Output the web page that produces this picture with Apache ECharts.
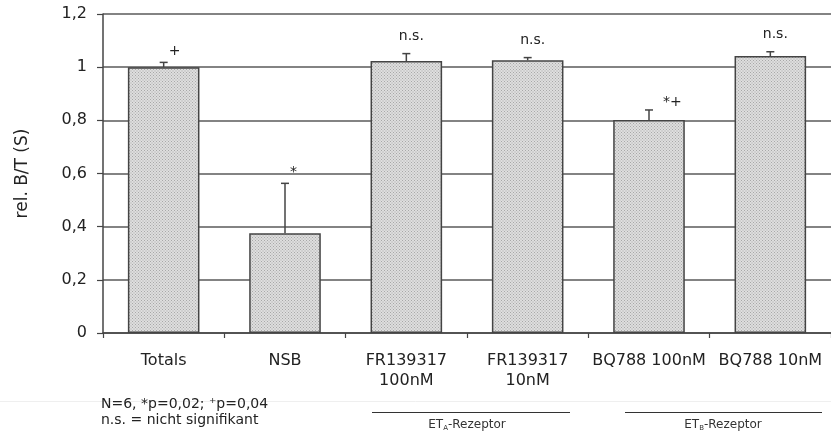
<!DOCTYPE html>
<html><head><meta charset="utf-8">
<script src="https://cdn.jsdelivr.net/npm/echarts@6/dist/echarts.min.js"></script>
<style>html,body{margin:0;padding:0;background:#fff}#c{width:831px;height:434px}</style>
</head><body><div id="c"></div>
<script>
const categories = ['Totals', 'NSB', 'FR139317\n100nM', 'FR139317\n10nM', 'BQ788 100nM', 'BQ788 10nM'];
const values = [1.0, 0.375, 1.023, 1.026, 0.801, 1.042];
const errUpper = [1.018, 0.563, 1.051, 1.036, 0.839, 1.058];
const annotations = ['+', '*', 'n.s.', 'n.s.', '*+', 'n.s.'];
const yTicks = [0, 0.2, 0.4, 0.6, 0.8, 1.0, 1.2];

const FONT = 'DejaVu Sans';

// dotted fill pattern
const pc = document.createElement('canvas');
pc.width = 3; pc.height = 3;
const px = pc.getContext('2d');
px.fillStyle = '#dedede'; px.fillRect(0, 0, 3, 3);
px.fillStyle = '#a8a8a8'; px.fillRect(0, 0, 1, 1); px.fillRect(1.5, 1.5, 1, 1);

const chart = echarts.init(document.getElementById('c'));
chart.setOption({
  animation: false,
  grid: { left: 103, top: 14, right: -4, bottom: 101 },
  xAxis: {
    type: 'category', data: categories,
    axisLine: { lineStyle: { color: '#444', width: 1.5 } },
    axisTick: { show: true, length: 5, lineStyle: { color: '#444', width: 1.2 } },
    axisLabel: { color: '#222', fontFamily: FONT, fontSize: 16, margin: 18, lineHeight: 20, interval: 0 },
    splitLine: { show: false }
  },
  yAxis: {
    type: 'value', min: 0, max: 1.2, interval: 0.2,
    name: 'rel. B/T (S)', nameLocation: 'middle', nameGap: 72, nameRotate: 90,
    nameTextStyle: { color: '#222', fontFamily: FONT, fontSize: 17 },
    axisLine: { show: true, lineStyle: { color: '#444', width: 1.5 } },
    axisTick: { show: true, length: 6, lineStyle: { color: '#444', width: 1.2 } },
    axisLabel: {
      color: '#222', fontFamily: FONT, fontSize: 16, margin: 16,
      formatter: v => {
        const t = yTicks.find(x => Math.abs(x - v) < 1e-6);
        return String(+((t ?? v).toFixed(1))).replace('.', ',');
      }
    },
    splitLine: { show: true, lineStyle: { color: '#5a5a5a', width: 1.5 } }
  },
  series: [
    {
      type: 'bar', data: values, barWidth: '59%',
      itemStyle: { color: { image: pc, repeat: 'repeat' }, borderColor: '#444', borderWidth: 1.5 },
      z: 2
    },
    {
      type: 'custom',
      data: values.map((v, i) => [i, v, errUpper[i]]),
      encode: { x: 0, y: [1, 2] },
      z: 3,
      renderItem: (params, api) => {
        const i = api.value(0);
        const base = api.coord([i, api.value(1)]);
        const top = api.coord([i, api.value(2)]);
        const txt = annotations[i];
        const isNS = txt === 'n.s.';
        let tx, ty, align;
        if (isNS) { tx = top[0] + 5; ty = top[1] - 17; align = 'center'; }
        else if (txt.length > 1) { tx = top[0] + 14; ty = top[1] - 8; align = 'left'; }
        else { tx = top[0] + 5; ty = top[1] - 11; align = 'left'; }
        return {
          type: 'group',
          children: [
            { type: 'line', shape: { x1: base[0], y1: base[1], x2: top[0], y2: top[1] }, style: { stroke: '#444', lineWidth: 1.5 } },
            { type: 'line', shape: { x1: top[0] - 4, y1: top[1], x2: top[0] + 4, y2: top[1] }, style: { stroke: '#444', lineWidth: 1.5 } },
            { type: 'text', x: tx, y: ty, style: { text: txt, fill: '#222', font: '14px ' + FONT, align: align, verticalAlign: 'middle' } }
          ]
        };
      }
    }
  ],
  graphic: [
    { type: 'line', shape: { x1: 0, y1: 401.5, x2: 831, y2: 401.5 }, style: { stroke: '#efefef', lineWidth: 1 } },
    { type: 'text', left: 101, top: 396, style: { text: 'N=6, *p=0,02; \u207Ap=0,04\nn.s. = nicht signifikant', fill: '#222', font: '14px ' + FONT, lineHeight: 16 } },
    { type: 'line', shape: { x1: 372, y1: 412.5, x2: 570, y2: 412.5 }, style: { stroke: '#333', lineWidth: 1 } },
    { type: 'line', shape: { x1: 625, y1: 412.5, x2: 822, y2: 412.5 }, style: { stroke: '#333', lineWidth: 1 } },
    { type: 'text', x: 467, y: 425, style: { text: 'ET{s|A}-Rezeptor', rich: { s: { fontSize: 7, fontFamily: FONT, fill: '#333', padding: [6, 0, 0, 0] } }, fill: '#333', font: '12px ' + FONT, align: 'center', verticalAlign: 'middle' } },
    { type: 'text', x: 723, y: 425, style: { text: 'ET{s|B}-Rezeptor', rich: { s: { fontSize: 7, fontFamily: FONT, fill: '#333', padding: [6, 0, 0, 0] } }, fill: '#333', font: '12px ' + FONT, align: 'center', verticalAlign: 'middle' } }
  ]
});
</script></body></html>
